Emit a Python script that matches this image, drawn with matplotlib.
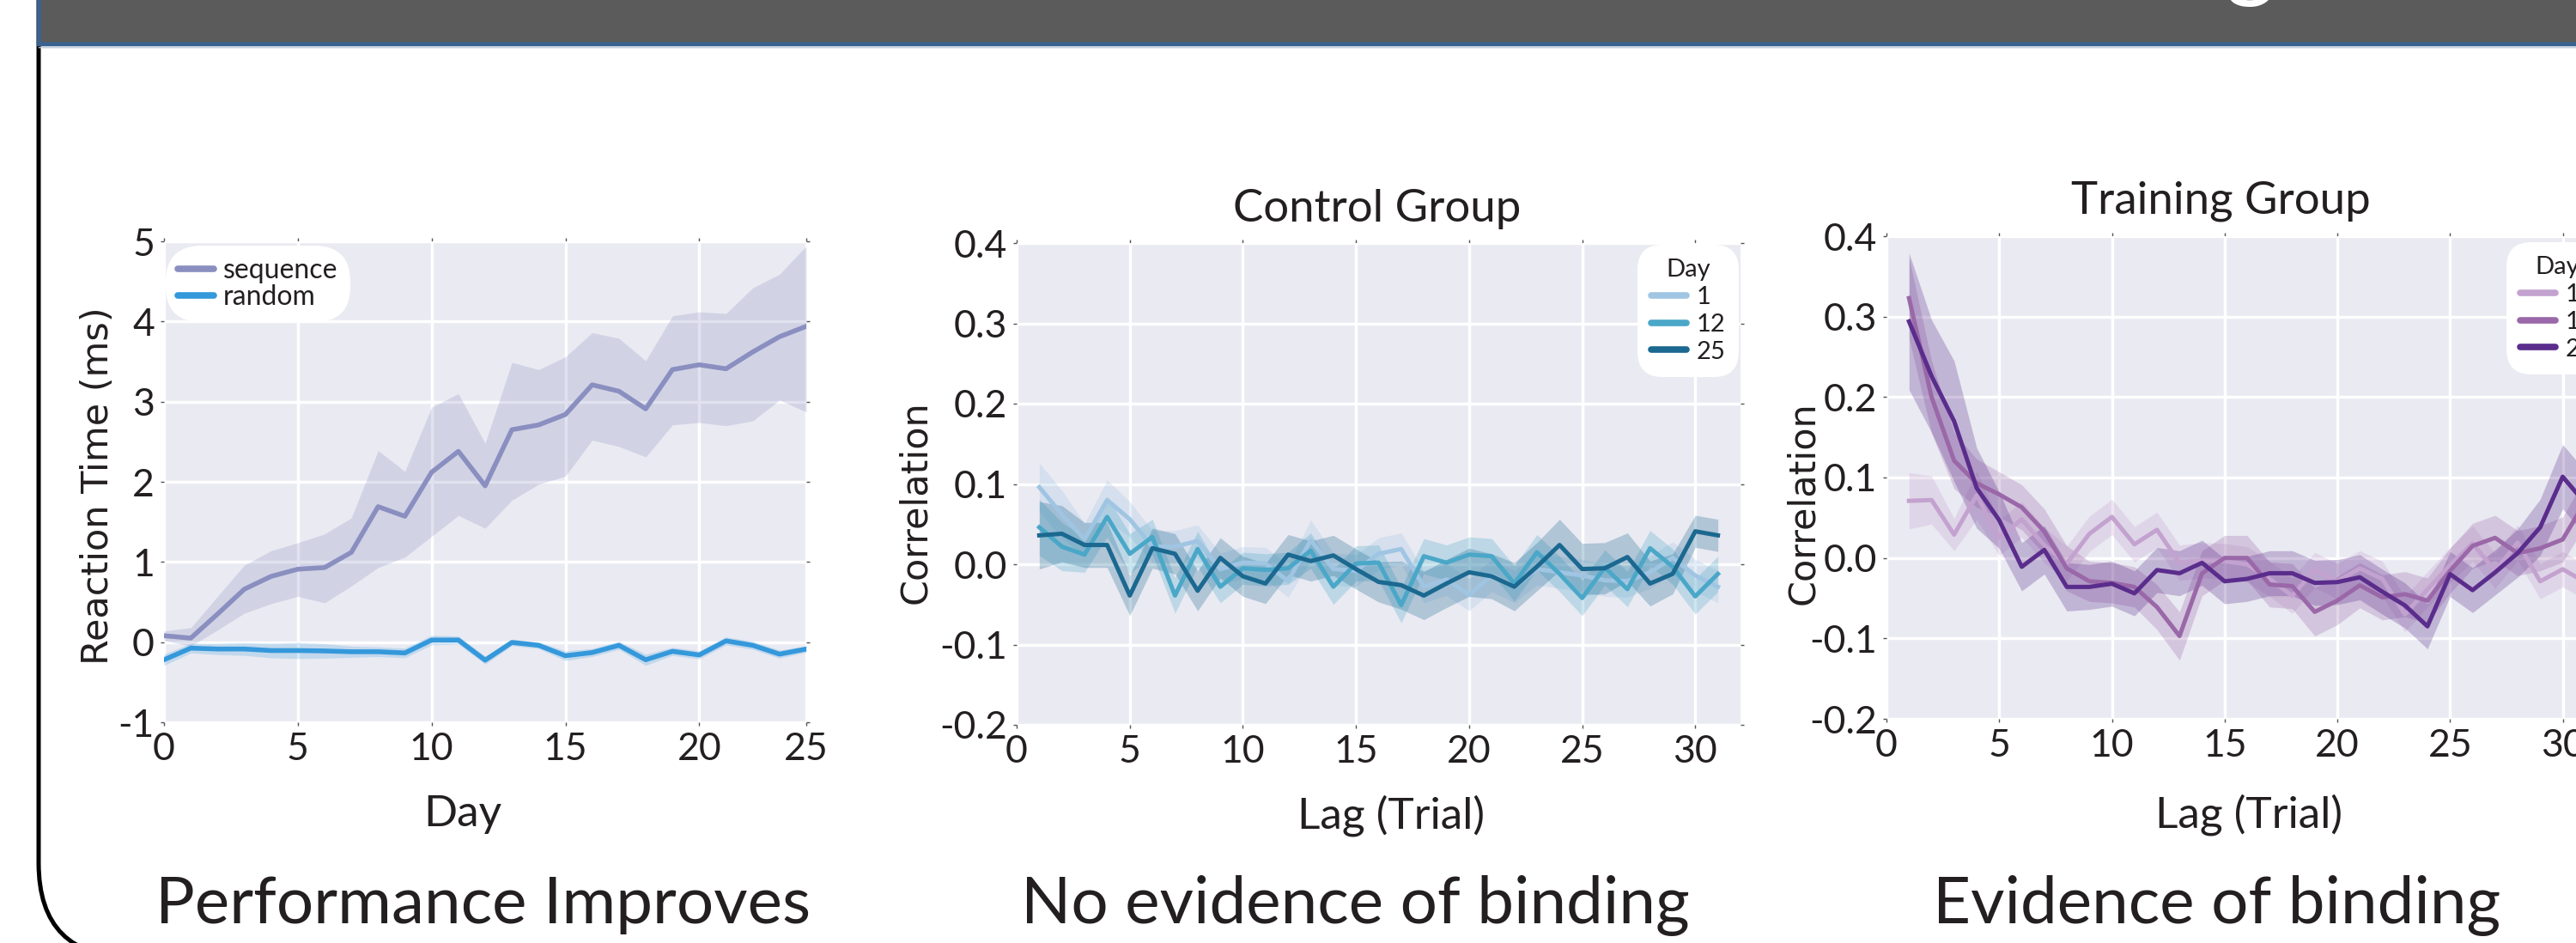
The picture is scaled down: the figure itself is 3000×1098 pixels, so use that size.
import matplotlib
matplotlib.use("Agg")
import numpy as np
import matplotlib.pyplot as plt
from matplotlib.patches import Rectangle, FancyBboxPatch
from matplotlib.transforms import IdentityTransform
from matplotlib.lines import Line2D

plt.rcParams['font.family'] = ['Lato', 'DejaVu Sans']

# ---------------- data ----------------
days = [0, 1, 2, 3, 4, 5, 6, 7, 8, 9, 10, 11, 12, 13, 14, 15, 16, 17, 18, 19, 20, 21, 22, 23, 24]
day_tick_pos = [0, 5, 10, 15, 20, 24]
day_tick_labels = ['0', '5', '10', '15', '20', '25']

seq_mean = [0.08, 0.05, 0.35, 0.66, 0.82, 0.91, 0.93, 1.12, 1.69, 1.57, 2.12, 2.38, 1.95, 2.65, 2.71,
            2.84, 3.21, 3.13, 2.91, 3.40, 3.46, 3.41, 3.62, 3.81, 3.94]
seq_lo = [0.02, -0.05, 0.15, 0.36, 0.48, 0.57, 0.49, 0.70, 0.93, 1.06, 1.32, 1.58, 1.42, 1.77, 1.97,
          2.07, 2.52, 2.44, 2.31, 2.71, 2.74, 2.70, 2.76, 3.02, 2.87]
seq_hi = [0.14, 0.18, 0.57, 0.96, 1.14, 1.24, 1.35, 1.55, 2.39, 2.13, 2.93, 3.10, 2.48, 3.49, 3.40,
          3.56, 3.86, 3.79, 3.51, 4.07, 4.12, 4.10, 4.42, 4.59, 4.94]
rand_mean = [-0.22, -0.075, -0.086, -0.086, -0.105, -0.105, -0.11, -0.12, -0.12, -0.135, 0.026, 0.026,
             -0.225, -0.004, -0.04, -0.17, -0.13, -0.04, -0.22, -0.115, -0.16, 0.015, -0.04, -0.15, -0.086]
rand_ci = [0.07, 0.06, 0.07, 0.08, 0.09, 0.10, 0.09, 0.07, 0.06, 0.06, 0.06, 0.05, 0.05, 0.04, 0.04,
           0.06, 0.05, 0.05, 0.07, 0.05, 0.05, 0.05, 0.05, 0.05, 0.04]

lags = [1, 2, 3, 4, 5, 6, 7, 8, 9, 10, 11, 12, 13, 14, 15, 16, 17, 18, 19, 20, 21, 22, 23, 24, 25, 26,
        27, 28, 29, 30, 31]
lag_ticks = [0, 5, 10, 15, 20, 25, 30]
corr_ticks = [-0.2, -0.1, 0.0, 0.1, 0.2, 0.3, 0.4]
corr_tick_labels = ['-0.2', '-0.1', '0.0', '0.1', '0.2', '0.3', '0.4']
legend_days = ['1', '12', '25']

ctrl_d1 = [0.096, 0.062, 0.031, 0.080, 0.056, 0.022, 0.022, 0.029, -0.006, 0.002, 0.001, -0.021, 0.030,
           -0.006, -0.008, 0.013, 0.019, -0.028, -0.019, -0.038, -0.014, -0.028, -0.006, -0.010, -0.014,
           -0.020, -0.021, -0.010, 0.008, -0.014, -0.028]
ctrl_d12 = [0.046, 0.022, 0.012, 0.059, 0.013, 0.034, -0.039, 0.019, -0.028, -0.005, -0.007, -0.005, 0.017,
            -0.028, 0.001, 0.002, -0.051, 0.010, 0.002, 0.012, 0.010, -0.024, 0.015, -0.012, -0.042,
            -0.004, -0.031, 0.020, -0.003, -0.040, -0.012]
ctrl_d25 = [0.036, 0.038, 0.024, 0.024, -0.039, 0.020, 0.013, -0.033, 0.008, -0.015, -0.024, 0.012, 0.004,
            0.011, -0.006, -0.022, -0.026, -0.039, -0.024, -0.010, -0.015, -0.028, -0.003, 0.024, -0.006,
            -0.005, 0.009, -0.024, -0.012, 0.041, 0.036]
ctrl_d1_ci = [0.030, 0.030, 0.020, 0.025, 0.022, 0.020, 0.020, 0.020, 0.020, 0.020, 0.020, 0.020, 0.025,
              0.020, 0.020, 0.020, 0.020, 0.020, 0.020, 0.020, 0.020, 0.020, 0.020, 0.020, 0.020, 0.020,
              0.020, 0.020, 0.020, 0.020, 0.020]
ctrl_d12_ci = [0.035, 0.030, 0.022, 0.025, 0.025, 0.022, 0.022, 0.022, 0.020, 0.020, 0.020, 0.020, 0.022,
               0.022, 0.022, 0.022, 0.022, 0.022, 0.022, 0.022, 0.022, 0.022, 0.022, 0.022, 0.022, 0.022,
               0.022, 0.022, 0.022, 0.022, 0.022]
ctrl_d25_ci = [0.042, 0.035, 0.028, 0.028, 0.025, 0.025, 0.025, 0.025, 0.025, 0.025, 0.025, 0.025, 0.025,
               0.025, 0.025, 0.025, 0.030, 0.030, 0.030, 0.030, 0.028, 0.030, 0.030, 0.032, 0.032, 0.032,
               0.030, 0.028, 0.025, 0.020, 0.020]

train_d1 = [0.071, 0.072, 0.029, 0.078, 0.025, 0.048, 0.016, -0.007, 0.030, 0.051, 0.017, 0.035, -0.006,
            -0.003, -0.004, -0.008, -0.026, -0.047, -0.015, -0.029, -0.013, -0.026, -0.070, -0.039, -0.009,
            0.018, -0.016, 0.019, -0.029, -0.014, -0.030]
train_d12 = [0.323, 0.200, 0.121, 0.093, 0.079, 0.063, 0.033, -0.013, -0.029, -0.031, -0.036, -0.061,
             -0.097, -0.019, 0.000, 0.000, -0.033, -0.035, -0.067, -0.053, -0.034, -0.049, -0.045, -0.053,
             -0.016, 0.015, 0.025, 0.006, 0.012, 0.023, 0.070]
train_d25 = [0.294, 0.226, 0.170, 0.087, 0.047, -0.011, 0.010, -0.036, -0.036, -0.032, -0.044, -0.015,
             -0.019, -0.006, -0.029, -0.026, -0.019, -0.019, -0.031, -0.030, -0.024, -0.042, -0.059, -0.085,
             -0.020, -0.040, -0.018, 0.006, 0.038, 0.101, 0.068]
train_d1_ci = [0.035, 0.030, 0.020, 0.030, 0.022, 0.022, 0.022, 0.022, 0.022, 0.022, 0.022, 0.022, 0.022,
               0.022, 0.022, 0.022, 0.022, 0.022, 0.022, 0.022, 0.022, 0.022, 0.022, 0.022, 0.022, 0.022,
               0.022, 0.022, 0.022, 0.022, 0.022]
train_d12_ci = [0.050, 0.045, 0.035, 0.030, 0.028, 0.028, 0.028, 0.028, 0.025, 0.025, 0.025, 0.028, 0.030,
                0.028, 0.028, 0.028, 0.028, 0.028, 0.030, 0.030, 0.028, 0.028, 0.028, 0.028, 0.028, 0.028,
                0.028, 0.028, 0.028, 0.028, 0.030]
train_d25_ci = [0.085, 0.070, 0.075, 0.050, 0.035, 0.030, 0.030, 0.030, 0.028, 0.028, 0.028, 0.028, 0.028,
                0.028, 0.028, 0.028, 0.028, 0.028, 0.028, 0.028, 0.028, 0.028, 0.028, 0.028, 0.028, 0.028,
                0.028, 0.030, 0.035, 0.040, 0.040]

# ---------------- style ----------------
W, H = 3000, 1098
TXT = '#231f20'
BG = '#EAEAF2'
SEQ_C = '#8a8fc0'
RAND_C = '#3498db'
CTRL_C = ['#9fc5e3', '#4aa7c8', '#1b6890']
TRAIN_C = ['#c3a2cf', '#9a68a8', '#5a2d8c']


def fx(px):
    return px / W


def fy(py):
    return 1 - py / H


fig = plt.figure(figsize=(W / 100, H / 100), dpi=100)
fig.patch.set_facecolor('white')

# header band
fig.add_artist(Rectangle((fx(45), fy(51)), 1.2, 0.2, transform=fig.transFigure,
                         facecolor='#5b5b5b', edgecolor='#3b6391', linewidth=3.5, zorder=6))
fig.add_artist(Line2D([fx(45), 1.0], [fy(55), fy(55)], transform=fig.transFigure,
                      color='#b8c6d6', linewidth=1, zorder=6))
fig.text(fx(2620), fy(8), 'g', color='white', fontsize=80, ha='center', va='bottom', zorder=7)

# rounded frame
fig.add_artist(FancyBboxPatch((45, H - 1115), 4000, 1115 + 300, boxstyle='round,pad=0,rounding_size=110',
                              transform=IdentityTransform(), fill=False, edgecolor='black',
                              linewidth=3.6, zorder=5))


def style(ax):
    ax.set_facecolor(BG)
    for s in ax.spines.values():
        s.set_visible(False)
    ax.grid(True, color='white', linewidth=2.5)
    ax.set_axisbelow(True)
    ax.tick_params(which='both', direction='out', length=3, width=1, color='#555555',
                   top=True, right=True, labelsize=32, labelcolor=TXT, pad=5)


def place(l, r, t, b):
    return fig.add_axes([fx(l), fy(b), (r - l) / W, (b - t) / H])


# ---------- panel 1 ----------
ax1 = place(191, 939, 281, 841)
style(ax1)
ax1.fill_between(days, seq_lo, seq_hi, color=SEQ_C, alpha=0.25, linewidth=0)
r_lo = [m - c for m, c in zip(rand_mean, rand_ci)]
r_hi = [m + c for m, c in zip(rand_mean, rand_ci)]
ax1.fill_between(days, r_lo, r_hi, color=RAND_C, alpha=0.22, linewidth=0)
ax1.plot(days, seq_mean, color=SEQ_C, linewidth=4.0)
ax1.plot(days, rand_mean, color=RAND_C, linewidth=4.0)
ax1.set_xlim(0, 24)
ax1.set_ylim(-1, 5)
ax1.set_xticks(day_tick_pos)
ax1.set_xticklabels(day_tick_labels)
ax1.set_yticks([-1, 0, 1, 2, 3, 4, 5])
ax1.set_yticklabels(['-1', '0', '1', '2', '3', '4', '5'])
ax1.set_xlabel('Day', fontsize=37, color=TXT)
ax1.xaxis.set_label_coords(0.465, -0.150)
ax1.set_ylabel('Reaction Time (ms)', fontsize=31, color=TXT, family='DejaVu Sans')
ax1.yaxis.set_label_coords(-0.075, 0.491)
h1 = [Line2D([], [], color=SEQ_C, linewidth=5.5, solid_capstyle='round'),
      Line2D([], [], color=RAND_C, linewidth=5.5, solid_capstyle='round')]
lg1 = ax1.legend(h1, ['sequence', 'random'], loc='upper left', bbox_to_anchor=(fx(193), fy(286)),
                 bbox_transform=fig.transFigure, borderaxespad=0, fontsize=23, frameon=True,
                 handlelength=1.3, handletextpad=0.35, labelspacing=0.02, borderpad=0.45)
lg1.get_frame().set_facecolor('white')
lg1.get_frame().set_edgecolor('none')
lg1.get_frame().set_alpha(1)
lg1.get_frame().set_boxstyle('round,pad=0,rounding_size=1.3')
for t in lg1.get_texts():
    t.set_color(TXT)


def corr_panel(ax, series, cis, colors, lx, ly):
    for s, c, col in zip(series, cis, colors):
        lo = [m - e for m, e in zip(s, c)]
        hi = [m + e for m, e in zip(s, c)]
        ax.fill_between(lags, lo, hi, color=col, alpha=0.28, linewidth=0)
    for s, col in zip(series, colors):
        ax.plot(lags, s, color=col, linewidth=3.6)
    ax.set_xlim(0, 32)
    ax.set_ylim(-0.2, 0.4)
    ax.set_xticks(lag_ticks)
    ax.set_xticklabels([str(v) for v in lag_ticks])
    ax.set_yticks(corr_ticks)
    ax.set_yticklabels(corr_tick_labels)
    handles = [Line2D([], [], color=col, linewidth=5.5, solid_capstyle='round') for col in colors]
    lg = ax.legend(handles, legend_days, title='Day', loc='upper left', bbox_to_anchor=(fx(lx), fy(ly)),
                   bbox_transform=fig.transFigure, borderaxespad=0, fontsize=21, title_fontsize=21,
                   handlelength=1.4, handletextpad=0.4, labelspacing=0.2, borderpad=0.55,
                   alignment='center')
    fr = lg.get_frame()
    fr.set_facecolor('white')
    fr.set_edgecolor('none')
    fr.set_alpha(1)
    fr.set_boxstyle('round,pad=0,rounding_size=1.0')
    for t in lg.get_texts():
        t.set_color(TXT)
        t.set_ha('right')
    lg.get_title().set_color(TXT)
    return lg


# ---------- panel 2 ----------
ax2 = place(1184, 2027, 283, 844)
style(ax2)
corr_panel(ax2, [ctrl_d1, ctrl_d12, ctrl_d25], [ctrl_d1_ci, ctrl_d12_ci, ctrl_d25_ci], CTRL_C, 1907, 285)
ax2.set_xlabel('Lag (Trial)', fontsize=37, color=TXT)
ax2.xaxis.set_label_coords(0.517, -0.145)
ax2.set_ylabel('Correlation', fontsize=31, color=TXT, family='DejaVu Sans')
ax2.yaxis.set_label_coords(-0.115, 0.462)

# ---------- panel 3 ----------
ax3 = place(2197, 3037, 275, 837)
style(ax3)
corr_panel(ax3, [train_d1, train_d12, train_d25], [train_d1_ci, train_d12_ci, train_d25_ci], TRAIN_C, 2919, 282)
ax3.set_xlabel('Lag (Trial)', fontsize=37, color=TXT)
ax3.xaxis.set_label_coords(0.502, -0.156)
ax3.set_ylabel('Correlation', fontsize=31, color=TXT, family='DejaVu Sans')
ax3.yaxis.set_label_coords(-0.090, 0.448)

# titles
fig.text(fx(1604), fy(258), 'Control Group', fontsize=38, color=TXT, ha='center', va='baseline')
fig.text(fx(2586), fy(249), 'Training Group', fontsize=38, color=TXT, ha='center', va='baseline')

fig.text(fx(563), fy(1075), 'Performance Improves', fontsize=55, color=TXT, ha='center', va='baseline')
fig.text(fx(1578), fy(1075), 'No evidence of binding', fontsize=55, color=TXT, ha='center', va='baseline')
fig.text(fx(2582), fy(1075), 'Evidence of binding', fontsize=55, color=TXT, ha='center', va='baseline')

fig.savefig('out.png', dpi=100, facecolor='white')
